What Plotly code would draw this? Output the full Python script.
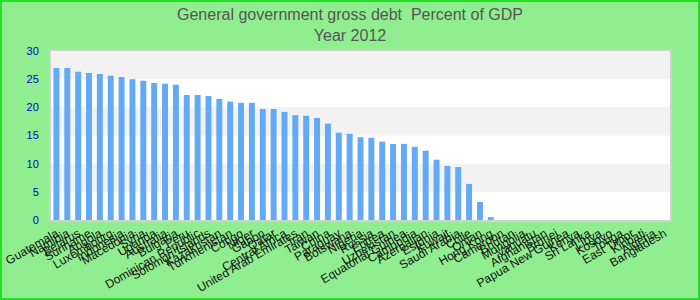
import plotly.graph_objects as go

countries = [
    "Guatemala", "Namibia", "Belarus", "Suriname", "Angola", "Luxembourg",
    "Indonesia", "Macedonia", "Syria", "Uganda", "Australia", "Bulgaria",
    "Peru", "Dominican Republic", "Solomon Islands", "Kazakhstan", "Turkmenistan",
    "Congo", "Niger", "Gabon", "Qatar", "Central Africa", "United Arab Emirates",
    "Iran", "Taiwan", "China", "Paraguay", "Botswana", "Nigeria", "Russia",
    "Eritrea", "Uzbekistan", "Equatorial Guinea", "Cambodia", "Azerbaijan",
    "Estonia", "Kuwait", "Saudi Arabia", "Chile", "Oman", "Hong Kong",
    "Cameroon", "Bhutan", "Mongolia", "Vanuatu", "Afghanistan", "Brunei",
    "Papua New Guinea", "Kenya", "Sri Lanka", "Libya", "Kosovo", "Tonga",
    "East Timor", "Kiribati", "Algeria", "Bangladesh",
]
debt = [
    27.0, 27.0, 26.3, 26.1, 25.9, 25.6, 25.4, 25.0, 24.7, 24.3, 24.2, 24.0,
    22.2, 22.2, 22.0, 21.5, 21.0, 20.8, 20.8, 19.7, 19.7, 19.2, 18.6, 18.5,
    18.1, 17.1, 15.5, 15.3, 14.7, 14.6, 13.9, 13.5, 13.5, 13.0, 12.3, 10.7,
    9.6, 9.4, 6.4, 3.2, 0.5,
    0, 0, 0, 0, 0, 0, 0, 0, 0, 0, 0, 0, 0, 0, 0, 0,
]
y_ticks = [0, 5, 10, 15, 20, 25, 30]

fig = go.Figure(go.Bar(x=countries, y=debt, marker_color="#62aaf5",
                       marker_line_width=0))

W, H = 700, 300
ml, mr, mt, mb = 51, 30, 51, 80

shapes = []
for i in range(len(y_ticks) - 1):
    if i % 2 == 1:
        shapes.append(dict(type="rect", xref="paper", yref="y", x0=0, x1=1,
                           y0=y_ticks[i], y1=y_ticks[i + 1],
                           fillcolor="#f2f2f2", line_width=0, layer="below"))
pw = W - ml - mr
ph = H - mt - mb
shapes.append(dict(type="rect", xref="paper", yref="paper",
                   x0=-(ml - 1) / pw, x1=1 + (mr - 1) / pw,
                   y0=-(mb - 1) / ph, y1=1 + (mt - 1) / ph,
                   line=dict(color="#22e022", width=2), fillcolor="rgba(0,0,0,0)"))

fig.update_layout(
    width=W, height=H,
    margin=dict(l=ml, r=mr, t=mt, b=mb, autoexpand=False),
    paper_bgcolor="#90ee90", plot_bgcolor="white",
    showlegend=False,
    bargap=0.45,
    shapes=shapes,
    title=dict(text="General government gross debt  Percent of GDP<br>Year 2012",
               x=0.5, xanchor="center", y=1 - 20 / H, yanchor="middle", yref="container",
               font=dict(family="Liberation Sans, Arial", size=16, color="#555555")),
    font=dict(family="Liberation Sans, Arial"),
    xaxis=dict(tickangle=-30, tickfont=dict(size=12, color="#111111"),
               tickmode="linear", dtick=1, tick0=0, automargin=False,
               showline=True, linecolor="#d0d0d0", linewidth=2, mirror=True,
               showgrid=False, ticks=""),
    yaxis=dict(range=[0, 30], tickvals=y_ticks, tickfont=dict(size=11, color="#0000cc"),
               automargin=False,
               showgrid=False, zeroline=False, showline=True, linecolor="#d0d0d0",
               linewidth=2, mirror=True, ticks="", ticklabelstandoff=8),
)

fig.write_html("out.html")
